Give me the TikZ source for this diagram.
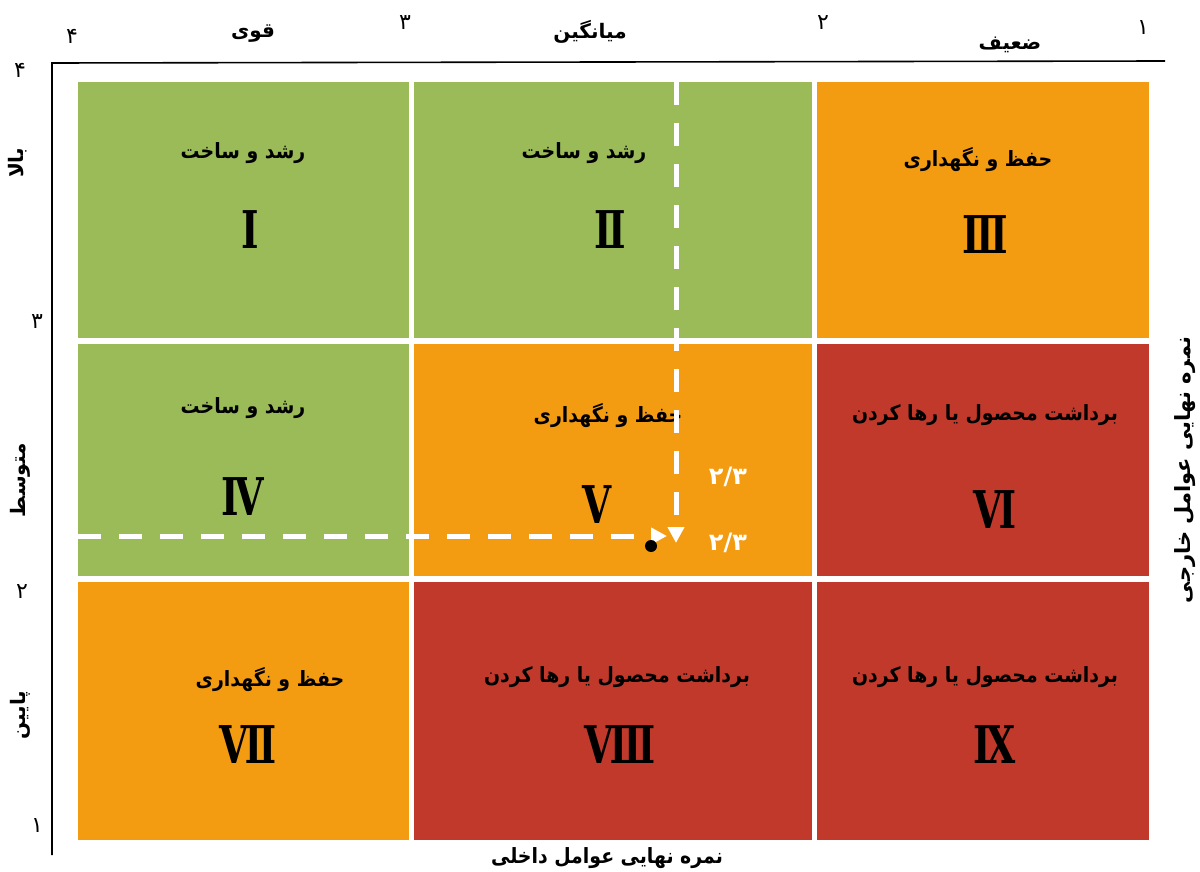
\documentclass[tikz,border=0pt]{standalone}
\usepackage{fontspec}
\setmainfont{DejaVu Sans}
\newfontfamily\farsi[Script=Arabic]{DejaVu Sans}
\newfontfamily\numfont{DejaVu Serif Condensed}
\TeXXeTstate=1
\usetikzlibrary{arrows.meta, positioning, calc}
\definecolor{Leaf}{RGB}{155, 187, 89}
\definecolor{Amber}{RGB}{243, 156, 18}
\definecolor{Brick}{RGB}{192, 57, 43}

\begin{document}
\begin{tikzpicture}[x=0.5pt, y=-0.5pt, >=Stealth,
    every node/.style={inner sep=0pt},
    colA/.style={minimum width=165.5pt}, colB/.style={minimum width=199pt}, colC/.style={minimum width=166pt},
    rowA/.style={minimum height=128pt}, rowB/.style={minimum height=116pt}, rowC/.style={minimum height=129pt},
    lbl/.style={font=\farsi\bfseries\fontsize{10.5}{13}\selectfont, xscale=0.9},
    num/.style={font=\numfont\bfseries\fontsize{26}{30}\selectfont, xscale=0.8},
    axis/.style={font=\farsi\bfseries\fontsize{10}{13}\selectfont},
    tick/.style={font=\farsi\fontsize{11}{13}\selectfont},
    guide/.style={draw=white, line width=2.5pt, dash pattern=on 11.5pt off 9pt}]
    \useasboundingbox (0,0) rectangle (1200,872);
    % axes
    \coordinate (corner) at (52,63);
    \coordinate (xend) at (1165,61);
    \coordinate (yend) at (52,855);
    \draw[line width=0.8pt] (xend) -- (corner) -- (yend);
    % the nine cells
    \node[colA, rowA, fill=Leaf, anchor=north west] (c1) at (78,82) {};
    \node[colB, rowA, fill=Leaf, right=2pt of c1] (c2) {};
    \node[colC, rowA, fill=Amber, right=2pt of c2] (c3) {};
    \node[colA, rowB, fill=Leaf, below=2.5pt of c1] (c4) {};
    \node[colB, rowB, fill=Amber, below=2.5pt of c2] (c5) {};
    \node[colC, rowB, fill=Brick, below=2.5pt of c3] (c6) {};
    \node[colA, rowC, fill=Amber, below=2.5pt of c4] (c7) {};
    \node[colB, rowC, fill=Brick, below=2.5pt of c5] (c8) {};
    \node[colC, rowC, fill=Brick, below=2.5pt of c6] (c9) {};
    % strategies
    \node[lbl] (t1) at (243,153) {\beginR رشد و ساخت\endR};
    \node[lbl] (t2) at (584,153) {\beginR رشد و ساخت\endR};
    \node[lbl] (t3) at (978,160) {\beginR حفظ و نگهداری\endR};
    \node[lbl] (t4) at (243,408) {\beginR رشد و ساخت\endR};
    \node[lbl] (t5) at (608,416) {\beginR حفظ و نگهداری\endR};
    \node[lbl] (t6) at (985,415) {\beginR برداشت محصول یا رها کردن\endR};
    \node[lbl] (t7) at (270,680) {\beginR حفظ و نگهداری\endR};
    \node[lbl] (t8) at (617,677) {\beginR برداشت محصول یا رها کردن\endR};
    \node[lbl] (t9) at (985,677) {\beginR برداشت محصول یا رها کردن\endR};
    \node[num] (n1) at (250,230) {Ⅰ};
    \node[num] (n2) at (610,230) {Ⅱ};
    \node[num] (n3) at (985,235) {Ⅲ};
    \node[num] (n4) at (243,497) {Ⅳ};
    \node[num] (n5) at (597,505) {Ⅴ};
    \node[num] (n6) at (995,510) {Ⅵ};
    \node[num] (n7) at (248,745) {Ⅶ};
    \node[num] (n8) at (620,745) {Ⅷ};
    \node[num] (n9) at (995,745) {Ⅸ};
    % position of the firm
    \coordinate (hstart) at (78,536);
    \coordinate (hend) at (667,536);
    \coordinate (vstart) at (676,82);
    \coordinate (vend) at (676,543);
    \draw[guide, -{Triangle[length=8pt, width=8pt, fill=white]}] (hstart) -- (hend);
    \draw[guide, -{Triangle[length=8pt, width=8pt, fill=white]}] (vstart) -- (vend);
    \node[circle, fill=black, minimum size=6pt] (firm) at (651,546) {};
    \node[tick, text=white, font=\farsi\bfseries\fontsize{12}{14}\selectfont] (vx) at (728,477) {۲/۳};
    \node[tick, text=white, font=\farsi\bfseries\fontsize{12}{14}\selectfont] (vy) at (728,543) {۲/۳};
    % top scale
    \node[tick] (x4) at (72,36) {۴};
    \node[axis] (strong) at (253,34) {\beginR قوی\endR};
    \node[tick] (x3) at (405,23) {۳};
    \node[axis] (avg) at (590,32) {\beginR میانگین\endR};
    \node[tick] (x2) at (823,23) {۲};
    \node[axis] (weak) at (1010,45) {\beginR ضعیف\endR};
    \node[tick] (x1) at (1143,28) {۱};
    % left scale
    \node[tick] (y4) at (20,70) {۴};
    \node[axis, rotate=90] (high) at (18,163) {\beginR بالا\endR};
    \node[tick] (y3) at (37,322) {۳};
    \node[axis, rotate=90] (mid) at (20,480) {\beginR متوسط\endR};
    \node[tick] (y2) at (22,592) {۲};
    \node[axis, rotate=90] (low) at (20,715) {\beginR پایین\endR};
    \node[tick] (y1) at (37,826) {۱};
    % axis titles
    \node[lbl] (ife) at (607,858) {\beginR نمره نهایی عوامل داخلی\endR};
    \node[axis, rotate=90, font=\farsi\bfseries\fontsize{10.5}{13}\selectfont] (efe) at (1185,470) {\beginR نمره نهایی عوامل خارجی\endR};
\end{tikzpicture}
\end{document}
